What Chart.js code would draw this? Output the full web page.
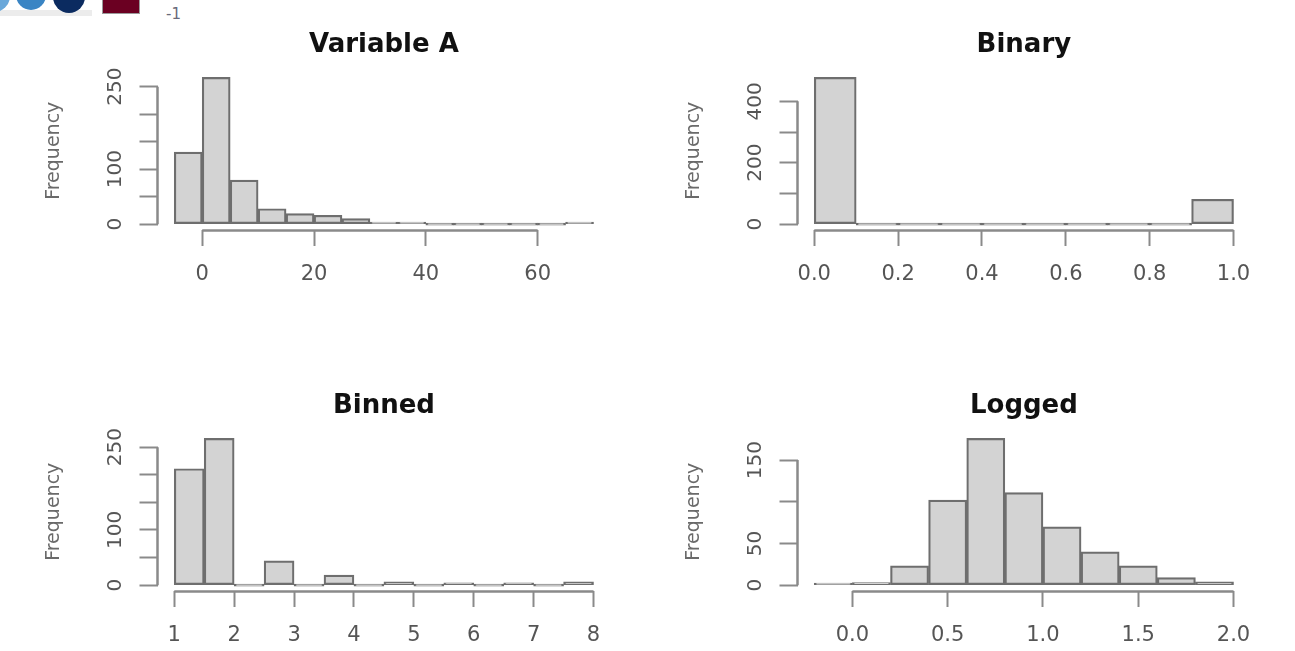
<!DOCTYPE html>
<html>
<head>
<meta charset="utf-8">
<title>Histograms</title>
<script src="https://cdn.jsdelivr.net/npm/chart.js@4.4.1/dist/chart.umd.min.js"></script>
<style>
  html, body { margin: 0; padding: 0; background: #fff; overflow: hidden; }
  body { width: 1295px; height: 651px; position: relative; font-family: 'DejaVu Sans', sans-serif; }
  .panel { position: absolute; width: 640px; height: 290px; }
  .panel canvas { display: block; }
  /* leftover of the figure above, cut off at the top edge */
  .bit { position: absolute; }
  .dot { border-radius: 50%; }
</style>
</head>
<body>

<div class="bit" style="left:0;top:10px;width:92px;height:6px;background:#ececec"></div>
<div class="bit dot" style="left:-22px;top:-20px;width:32px;height:32px;background:#6aa8da"></div>
<div class="bit dot" style="left:16px;top:-20px;width:30px;height:30px;background:#3a85c4"></div>
<div class="bit dot" style="left:53px;top:-19px;width:32px;height:32px;background:#0b2b60"></div>
<div class="bit" style="left:102px;top:-24px;width:36px;height:36px;background:#6b0022;border:1px solid #9a9a9a"></div>
<div class="bit" style="left:166px;top:5px;font-size:15px;color:#6a6a7a">-1</div>

<div class="panel" style="left:0;top:0"><canvas id="chartA" width="640" height="290"></canvas></div>
<div class="panel" style="left:640px;top:0"><canvas id="chartB" width="640" height="290"></canvas></div>
<div class="panel" style="left:0;top:361px"><canvas id="chartC" width="640" height="290"></canvas></div>
<div class="panel" style="left:640px;top:361px"><canvas id="chartD" width="640" height="290"></canvas></div>

<script>
// --- data ----------------------------------------------------------------
// Variable A
const varABreaks = [-5, 0, 5, 10, 15, 20, 25, 30, 35, 40, 45, 50, 55, 60, 65, 70];
const varACounts = [131, 267, 80, 28, 19, 16, 10, 3, 2, 0, 0, 0, 0, 0, 1];
const varAXTicks = [0, 20, 40, 60];
const varAXLabels = ['0', '20', '40', '60'];
const varAYTicks = [0, 50, 100, 150, 200, 250];
const varAYLabels = [0, 100, 250];

// Binary
const binaryBreaks = [0, 0.1, 0.2, 0.3, 0.4, 0.5, 0.6, 0.7, 0.8, 0.9, 1.0];
const binaryCounts = [478, 0, 0, 0, 0, 0, 0, 0, 0, 81];
const binaryXTicks = [0, 0.2, 0.4, 0.6, 0.8, 1.0];
const binaryXLabels = ['0.0', '0.2', '0.4', '0.6', '0.8', '1.0'];
const binaryYTicks = [0, 100, 200, 300, 400];
const binaryYLabels = [0, 200, 400];

// Binned
const binnedBreaks = [1, 1.5, 2, 2.5, 3, 3.5, 4, 4.5, 5, 5.5, 6, 6.5, 7, 7.5, 8];
const binnedCounts = [211, 266, 0, 44, 0, 18, 0, 6, 0, 4, 0, 4, 0, 6];
const binnedXTicks = [1, 2, 3, 4, 5, 6, 7, 8];
const binnedXLabels = ['1', '2', '3', '4', '5', '6', '7', '8'];
const binnedYTicks = [0, 50, 100, 150, 200, 250];
const binnedYLabels = [0, 100, 250];

// Logged
const loggedBreaks = [-0.2, 0, 0.2, 0.4, 0.6, 0.8, 1.0, 1.2, 1.4, 1.6, 1.8, 2.0];
const loggedCounts = [1, 3, 23, 102, 176, 111, 70, 40, 23, 9, 4];
const loggedXTicks = [0, 0.5, 1.0, 1.5, 2.0];
const loggedXLabels = ['0.0', '0.5', '1.0', '1.5', '2.0'];
const loggedYTicks = [0, 50, 100, 150];
const loggedYLabels = [0, 50, 150];

// --- look -----------------------------------------------------------------
const FONT = 'DejaVu Sans';
const BAR_FILL = '#d3d3d3';
const BAR_EDGE = '#6e6e6e';
const AXIS_COLOR = '#8a8a8a';
const TICK_TEXT = '#555555';

// base-R style axes: the line only runs from the first tick to the last one
const rAxes = {
    id: 'rAxes',
    afterDraw(chart) {
        const { ctx, chartArea, scales: { x, y } } = chart;
        const xs = x.ticks.map(t => x.getPixelForValue(t.value));
        const ys = y.ticks.map(t => y.getPixelForValue(t.value));
        ctx.save();
        ctx.strokeStyle = AXIS_COLOR;
        ctx.lineWidth = 2.5;
        ctx.beginPath();
        ctx.moveTo(xs[0], chartArea.bottom + 0.5);
        ctx.lineTo(xs[xs.length - 1], chartArea.bottom + 0.5);
        ctx.moveTo(chartArea.left, ys[0]);
        ctx.lineTo(chartArea.left, ys[ys.length - 1]);
        ctx.stroke();
        ctx.restore();
    }
};

function makeHist(id, title, breaks, counts, xTicks, xLabels, yTicks, yLabels) {
    // R pads both axis ranges by 4%
    const lo = breaks[0];
    const hi = breaks[breaks.length - 1];
    const xPad = (hi - lo) * 0.04;
    const yMax = Math.max(...counts);
    const yPad = yMax * 0.04;
    const points = counts.map((c, i) => ({ x: (breaks[i] + breaks[i + 1]) / 2, y: c }));

    return new Chart(document.getElementById(id), {
        type: 'bar',
        data: {
            datasets: [{
                data: points,
                backgroundColor: BAR_FILL,
                borderColor: BAR_EDGE,
                borderWidth: 2.2,
                borderSkipped: false,
                minBarLength: 2,
                barPercentage: 1,
                categoryPercentage: 1,
            }],
        },
        options: {
            responsive: false,
            animation: false,
            devicePixelRatio: 1,
            layout: { padding: { left: 0, top: 0, right: 29.7, bottom: 0 } },
            plugins: {
                legend: { display: false },
                tooltip: { enabled: false },
                title: {
                    display: true,
                    text: title,
                    fullSize: false,
                    color: '#111',
                    font: { family: FONT, size: 26, weight: 'bold' },
                    padding: { top: 29.5, bottom: 10.8 },
                },
            },
            scales: {
                x: {
                    type: 'linear',
                    offset: false,
                    min: lo - xPad,
                    max: hi + xPad,
                    afterBuildTicks: s => { s.ticks = xTicks.map(v => ({ value: v })); },
                    afterFit: s => { s.height = 60; },
                    border: { display: false },
                    grid: { offset: false, drawOnChartArea: false, tickLength: 16, tickWidth: 2, tickColor: AXIS_COLOR },
                    ticks: {
                        autoSkip: false,
                        minRotation: 0,
                        maxRotation: 0,
                        padding: 16,
                        color: TICK_TEXT,
                        font: { family: FONT, size: 21 },
                        callback: (v, i) => xLabels[i],
                    },
                },
                y: {
                    min: -yPad,
                    max: yMax + yPad,
                    afterBuildTicks: s => { s.ticks = yTicks.map(v => ({ value: v })); },
                    afterFit: s => { s.width = 157.5; },
                    border: { display: false },
                    grid: { drawOnChartArea: false, tickLength: 18, tickWidth: 2, tickColor: AXIS_COLOR },
                    ticks: {
                        autoSkip: false,
                        minRotation: 90,
                        maxRotation: 90,
                        crossAlign: 'center',
                        padding: 5,
                        color: TICK_TEXT,
                        font: { family: FONT, size: 20 },
                        callback: v => (yLabels.includes(v) ? String(v) : ''),
                    },
                    title: {
                        display: true,
                        text: 'Frequency',
                        color: '#6a6a6a',
                        font: { family: FONT, size: 19 },
                        padding: { top: 43, bottom: 0 },
                    },
                },
            },
        },
        plugins: [rAxes],
    });
}

makeHist('chartA', 'Variable A', varABreaks, varACounts, varAXTicks, varAXLabels, varAYTicks, varAYLabels);
makeHist('chartB', 'Binary', binaryBreaks, binaryCounts, binaryXTicks, binaryXLabels, binaryYTicks, binaryYLabels);
makeHist('chartC', 'Binned', binnedBreaks, binnedCounts, binnedXTicks, binnedXLabels, binnedYTicks, binnedYLabels);
makeHist('chartD', 'Logged', loggedBreaks, loggedCounts, loggedXTicks, loggedXLabels, loggedYTicks, loggedYLabels);
</script>
</body>
</html>
